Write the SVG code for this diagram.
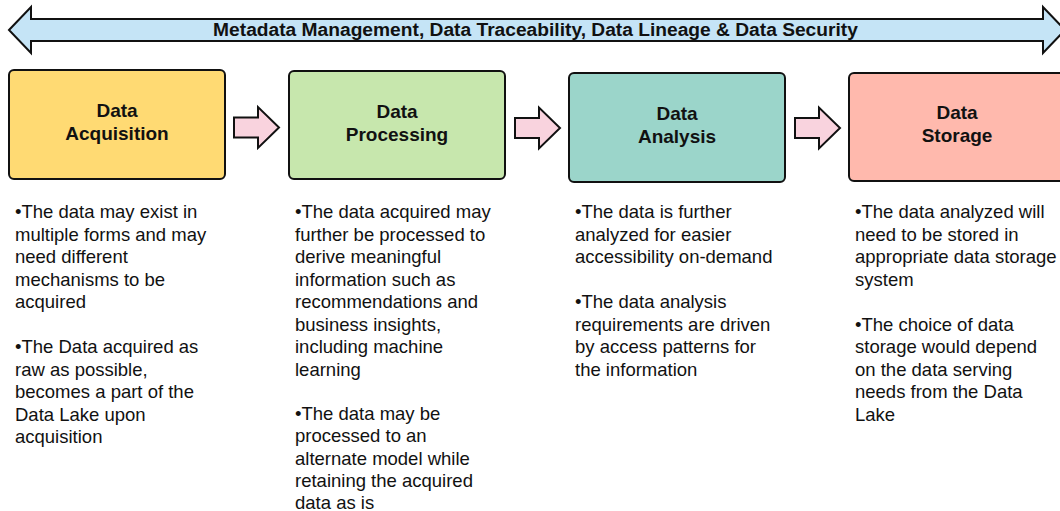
<svg xmlns="http://www.w3.org/2000/svg" width="1060" height="511" viewBox="0 0 1060 511">
  <style>
    .stage { stroke: #111; stroke-width: 2; }
    .title { font-family: "Liberation Sans", Arial, sans-serif; font-size: 19px; font-weight: bold; fill: #111; text-anchor: middle; }
    .banner-text { font-size: 19.2px; }
    .body { font-family: "Liberation Sans", Arial, sans-serif; font-size: 18.5px; fill: #111; }
    .flow { fill: #F9D3DE; stroke: #111; stroke-width: 2; stroke-linejoin: miter; }
    .banner { fill: #C5E4F6; stroke: #111; stroke-width: 2; stroke-linejoin: miter; }
  </style>
  <defs>
    <path id="stepArrow" d="M0,-10 H24 V-20.5 L45,0 L24,20.5 V10 H0 Z"/>
  </defs>
  <rect width="1060" height="511" fill="#ffffff"/>

  <!-- governance banner spanning all stages -->
  <g id="governance">
    <path class="banner" d="M9,30 L31,7 V19 H1043 V7 L1065,30 L1043,53 V41 H31 V53 Z"/>
    <text class="title banner-text" x="535.5" y="35.5">Metadata Management, Data Traceability, Data Lineage &amp; Data Security</text>
  </g>

  <g id="acquisition">
    <rect class="stage" x="9" y="70" width="216" height="109" rx="5" fill="#FFDA73"/>
    <text class="title" x="117" y="117">Data</text>
    <text class="title" x="117" y="140">Acquisition</text>
    <text class="body" x="15">
      <tspan x="15" y="218">•The data may exist in</tspan>
      <tspan x="15" y="240.5">multiple forms and may</tspan>
      <tspan x="15" y="263">need different</tspan>
      <tspan x="15" y="285.5">mechanisms to be</tspan>
      <tspan x="15" y="308">acquired</tspan>
      <tspan x="15" y="353">•The Data acquired as</tspan>
      <tspan x="15" y="375.5">raw as possible,</tspan>
      <tspan x="15" y="398">becomes a part of the</tspan>
      <tspan x="15" y="420.5">Data Lake upon</tspan>
      <tspan x="15" y="443">acquisition</tspan>
    </text>
  </g>

  <g id="processing">
    <rect class="stage" x="289" y="71" width="216" height="108" rx="5" fill="#C7E7AD"/>
    <text class="title" x="397" y="118">Data</text>
    <text class="title" x="397" y="141">Processing</text>
    <text class="body" x="295">
      <tspan x="295" y="218">•The data acquired may</tspan>
      <tspan x="295" y="240.5">further be processed to</tspan>
      <tspan x="295" y="263">derive meaningful</tspan>
      <tspan x="295" y="285.5">information such as</tspan>
      <tspan x="295" y="308">recommendations and</tspan>
      <tspan x="295" y="330.5">business insights,</tspan>
      <tspan x="295" y="353">including machine</tspan>
      <tspan x="295" y="375.5">learning</tspan>
      <tspan x="295" y="420">•The data may be</tspan>
      <tspan x="295" y="442">processed to an</tspan>
      <tspan x="295" y="464.5">alternate model while</tspan>
      <tspan x="295" y="486.5">retaining the acquired</tspan>
      <tspan x="295" y="508.5">data as is</tspan>
    </text>
  </g>

  <g id="analysis">
    <rect class="stage" x="569" y="73" width="216" height="109" rx="5" fill="#9BD5CA"/>
    <text class="title" x="677" y="120">Data</text>
    <text class="title" x="677" y="143">Analysis</text>
    <text class="body" x="575">
      <tspan x="575" y="218">•The data is further</tspan>
      <tspan x="575" y="240.5">analyzed for easier</tspan>
      <tspan x="575" y="263">accessibility on-demand</tspan>
      <tspan x="575" y="308">•The data analysis</tspan>
      <tspan x="575" y="330.5">requirements are driven</tspan>
      <tspan x="575" y="353">by access patterns for</tspan>
      <tspan x="575" y="375.5">the information</tspan>
    </text>
  </g>

  <g id="storage">
    <rect class="stage" x="849" y="73" width="216" height="108" rx="5" fill="#FFB9AD"/>
    <text class="title" x="957" y="119">Data</text>
    <text class="title" x="957" y="142">Storage</text>
    <text class="body" x="855">
      <tspan x="855" y="218">•The data analyzed will</tspan>
      <tspan x="855" y="240.5">need to be stored in</tspan>
      <tspan x="855" y="263">appropriate data storage</tspan>
      <tspan x="855" y="285.5">system</tspan>
      <tspan x="855" y="330.5">•The choice of data</tspan>
      <tspan x="855" y="353">storage would depend</tspan>
      <tspan x="855" y="375.5">on the data serving</tspan>
      <tspan x="855" y="398">needs from the Data</tspan>
      <tspan x="855" y="420.5">Lake</tspan>
    </text>
  </g>

  <!-- stage-to-stage flow arrows -->
  <g id="connectors">
    <use href="#stepArrow" class="flow" x="234" y="127.5"/>
    <use href="#stepArrow" class="flow" x="515" y="128"/>
    <use href="#stepArrow" class="flow" x="795" y="128"/>
  </g>
</svg>
